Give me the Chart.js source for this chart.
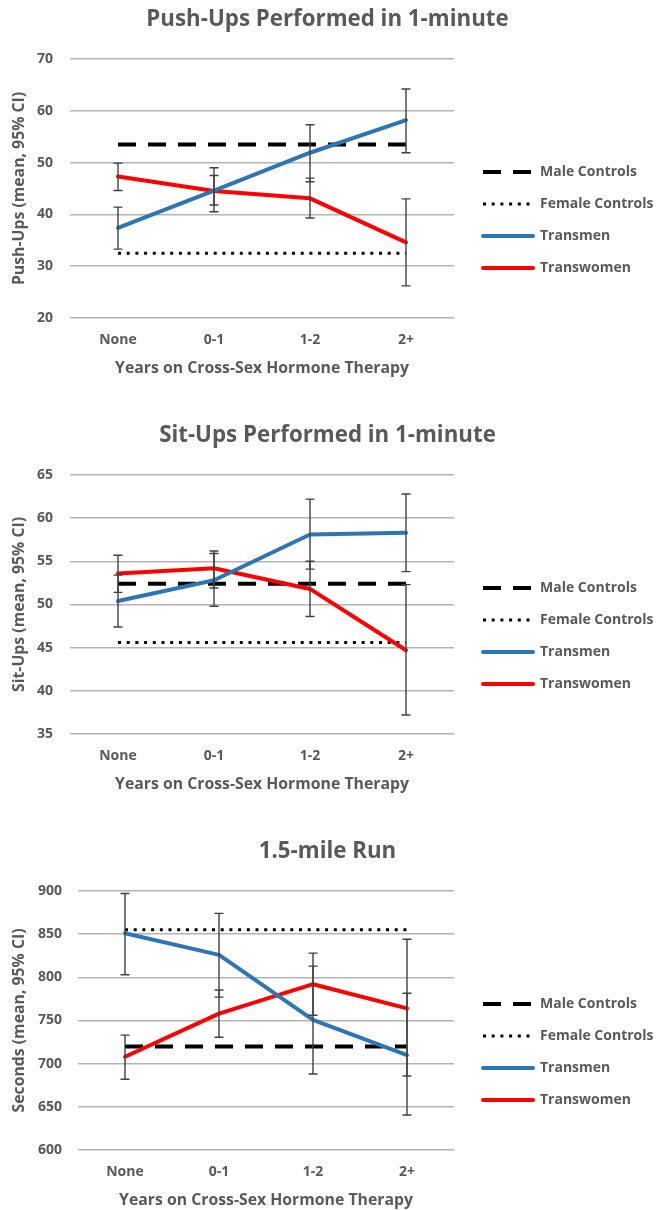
<!DOCTYPE html>
<html>
<head>
<meta charset="utf-8">
<script src="https://cdn.jsdelivr.net/npm/chart.js@4.4.1/dist/chart.umd.min.js"></script>
<style>
  html, body { margin: 0; padding: 0; background: #fff; overflow: hidden; }
  .box { position: absolute; left: 0; width: 659px; height: 416px; }
</style>
</head>
<body>
<div class="box" style="top:0px"><canvas id="pushups" width="659" height="416"></canvas></div>
<div class="box" style="top:416px"><canvas id="situps" width="659" height="416"></canvas></div>
<div class="box" style="top:832px"><canvas id="run" width="659" height="416"></canvas></div>
<script>
const categories = ["None", "0-1", "1-2", "2+"];
const seriesNames = ["Male Controls", "Female Controls", "Transmen", "Transwomen"];

// push-ups
const pushMale = [53.5, 53.5, 53.5, 53.5];
const pushFemale = [32.5, 32.5, 32.5, 32.5];
const pushTransmen = [37.4, 44.6, 51.9, 58.2];
const pushTransmenLow = [33.3, 40.5, 46.3, 51.9];
const pushTransmenHigh = [41.4, 49.0, 57.3, 64.2];
const pushTranswomen = [47.3, 44.5, 43.1, 34.6];
const pushTranswomenLow = [44.6, 41.8, 39.3, 26.2];
const pushTranswomenHigh = [49.9, 47.5, 47.0, 43.0];

// sit-ups
const sitMale = [52.4, 52.4, 52.4, 52.4];
const sitFemale = [45.6, 45.6, 45.6, 45.6];
const sitTransmen = [50.4, 52.8, 58.1, 58.3];
const sitTransmenLow = [47.4, 49.8, 54.1, 53.8];
const sitTransmenHigh = [53.4, 55.9, 62.2, 62.8];
const sitTranswomen = [53.6, 54.2, 51.8, 44.7];
const sitTranswomenLow = [51.4, 51.9, 48.6, 37.2];
const sitTranswomenHigh = [55.7, 56.2, 55.0, 52.3];

// 1.5-mile run (seconds)
const runMale = [720, 720, 720, 720];
const runFemale = [855, 855, 855, 855];
const runTransmen = [851, 826, 750.6, 710];
const runTransmenLow = [803, 777, 688, 640.5];
const runTransmenHigh = [897, 874, 813, 781.5];
const runTranswomen = [708, 758, 792, 764];
const runTranswomenLow = [682, 730.5, 756, 685.7];
const runTranswomenHigh = [733, 785.3, 828, 844];

const FONT = "'Open Sans', sans-serif";
const GREY = "#595959";
const BLUE = "#2E75B6";
const RED = "#FF0000";

// whiskers for the 95% CI, drawn on top of the lines
const errorBars = {
  id: "errorBars",
  afterDatasetsDraw(chart) {
    const ctx = chart.ctx;
    const xs = chart.scales.x;
    const ys = chart.scales.y;
    ctx.save();
    ctx.strokeStyle = "#404040";
    ctx.lineWidth = 1.4;
    chart.data.datasets.forEach((ds) => {
      if (!ds.errLow) return;
      ds.errLow.forEach((lo, i) => {
        const x = xs.getPixelForValue(i);
        const y1 = ys.getPixelForValue(lo);
        const y2 = ys.getPixelForValue(ds.errHigh[i]);
        ctx.beginPath();
        ctx.moveTo(x, y1);
        ctx.lineTo(x, y2);
        ctx.moveTo(x - 4.5, y1);
        ctx.lineTo(x + 4.5, y1);
        ctx.moveTo(x - 4.5, y2);
        ctx.lineTo(x + 4.5, y2);
        ctx.stroke();
      });
    });
    ctx.restore();
  },
};

// legend samples take the dash / width of the dataset line
function legendLabels(chart) {
  const items = Chart.defaults.plugins.legend.labels.generateLabels(chart);
  items.forEach((it) => {
    const ds = chart.data.datasets[it.datasetIndex];
    it.lineDash = ds.borderDash || [];
    it.lineWidth = ds.borderWidth;
    it.strokeStyle = ds.borderColor;
    it.lineCap = ds.borderCapStyle;
  });
  return items;
}

function makeChart(id, opt) {
  return new Chart(document.getElementById(id), {
    type: "line",
    data: {
      labels: categories,
      datasets: [
        {
          label: seriesNames[0],
          data: opt.male,
          borderColor: "#000",
          borderWidth: 4,
          borderDash: [18, 12],
          borderCapStyle: "butt",
          order: 1,
        },
        {
          label: seriesNames[1],
          data: opt.female,
          borderColor: "#000",
          borderWidth: 3,
          borderDash: [3, 5.7],
          borderCapStyle: "butt",
          order: 1,
        },
        {
          label: seriesNames[2],
          data: opt.men,
          errLow: opt.menLow,
          errHigh: opt.menHigh,
          borderColor: BLUE,
          borderWidth: 4,
          borderCapStyle: "round",
          borderJoinStyle: "round",
          order: 0,
        },
        {
          label: seriesNames[3],
          data: opt.women,
          errLow: opt.womenLow,
          errHigh: opt.womenHigh,
          borderColor: RED,
          borderWidth: 4,
          borderCapStyle: "round",
          borderJoinStyle: "round",
          order: 0,
        },
      ],
    },
    options: {
      responsive: false,
      animation: false,
      events: [],
      layout: { padding: { top: 0, left: 0, right: 4, bottom: 35.6 } },
      elements: {
        point: { radius: 0 },
        line: { tension: 0, fill: false },
      },
      scales: {
        x: {
          offset: true,
          grid: { display: false, drawTicks: false },
          border: { display: false },
          ticks: { padding: 13.6, color: GREY, font: { family: FONT, size: 14, weight: "bold" } },
          title: {
            display: true,
            text: "Years on Cross-Sex Hormone Therapy",
            color: GREY,
            padding: { top: 10, bottom: 2.9 },
            font: { family: FONT, size: 15.8, weight: "bold" },
          },
          afterFit: (s) => { s.height = 62.4; },
        },
        y: {
          min: opt.min,
          max: opt.max,
          grid: { color: "#b4b4b4", lineWidth: 1.5, drawTicks: false },
          border: { display: false },
          ticks: {
            stepSize: opt.step,
            padding: opt.tickPad,
            color: GREY,
            font: { family: FONT, size: 14, weight: "bold" },
          },
          title: {
            display: true,
            text: opt.yTitle,
            color: GREY,
            padding: { top: 10.5, bottom: 0 },
            font: { family: FONT, size: 15.8, weight: "bold" },
          },
          afterFit: (s) => { s.width = opt.yWidth; },
        },
        pad: {
          type: "linear",
          position: "right",
          display: true,
          grid: { display: false, drawTicks: false },
          border: { display: false },
          ticks: { display: false },
          afterFit: (s) => { s.width = 11; },
        },
      },
      plugins: {
        tooltip: { enabled: false },
        title: {
          display: true,
          text: opt.title,
          color: GREY,
          font: { family: FONT, size: 22.3, weight: "bold" },
          padding: { top: 6.6, bottom: 25.6 },
        },
        legend: {
          position: "right",
          align: "start",
          maxWidth: 190,
          title: { display: true, text: " ", font: { size: 10 }, padding: { top: 135, bottom: 0 } },
          labels: {
            usePointStyle: true,
            pointStyle: "line",
            pointStyleWidth: 50,
            padding: 18,
            color: GREY,
            font: { family: FONT, size: 14, weight: "bold" },
            generateLabels: legendLabels,
            sort: (a, b) => a.datasetIndex - b.datasetIndex,
          },
        },
      },
    },
    plugins: [errorBars],
  });
}

makeChart("pushups", {
  title: "Push-Ups Performed in 1-minute",
  yTitle: "Push-Ups (mean, 95% CI)",
  min: 20, max: 70, step: 10, yWidth: 70, tickPad: 17,
  male: pushMale, female: pushFemale,
  men: pushTransmen, menLow: pushTransmenLow, menHigh: pushTransmenHigh,
  women: pushTranswomen, womenLow: pushTranswomenLow, womenHigh: pushTranswomenHigh,
});

makeChart("situps", {
  title: "Sit-Ups Performed in 1-minute",
  yTitle: "Sit-Ups (mean, 95% CI)",
  min: 35, max: 65, step: 5, yWidth: 70, tickPad: 17,
  male: sitMale, female: sitFemale,
  men: sitTransmen, menLow: sitTransmenLow, menHigh: sitTransmenHigh,
  women: sitTranswomen, womenLow: sitTranswomenLow, womenHigh: sitTranswomenHigh,
});

makeChart("run", {
  title: "1.5-mile Run",
  yTitle: "Seconds (mean, 95% CI)",
  min: 600, max: 900, step: 50, yWidth: 78, tickPad: 16,
  male: runMale, female: runFemale,
  men: runTransmen, menLow: runTransmenLow, menHigh: runTransmenHigh,
  women: runTranswomen, womenLow: runTranswomenLow, womenHigh: runTranswomenHigh,
});
</script>
</body>
</html>
